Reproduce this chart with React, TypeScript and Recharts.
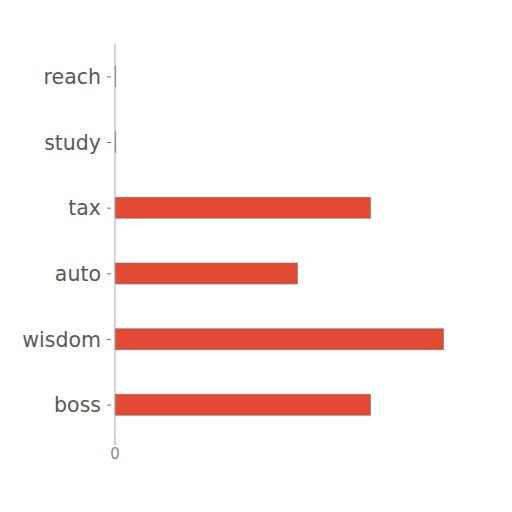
import React from "react";
import { BarChart, Bar, XAxis, YAxis } from "recharts";

const categories = ["reach", "study", "tax", "auto", "wisdom", "boss"];
const values = [0.02, 0.02, 7, 5, 9, 7];
const xTicks = [0];

const data = categories.map((c, i) => ({ name: c, value: values[i] }));

const YTick = (props: any) => {
  const { x, y, payload } = props;
  return (
    <g>
      <line x1={x - 8} x2={x - 4} y1={y} y2={y} stroke="#777" strokeWidth={1} />
      <text
        x={x - 14}
        y={y}
        textAnchor="end"
        dominantBaseline="central"
        fontFamily="DejaVu Sans"
        fontSize={20.5}
        fill="#595959"
      >
        {payload.value}
      </text>
    </g>
  );
};

export default function App() {
  return (
    <div style={{ position: "fixed", left: 0, top: 0, width: 512, height: 512, background: "#fff" }}>
      <BarChart
        width={512}
        height={512}
        data={data}
        layout="vertical"
        margin={{ top: 44, right: 32, bottom: 44, left: 0 }}
        barCategoryGap={0}
      >
        <XAxis
          type="number"
          domain={[0, 10]}
          ticks={xTicks}
          axisLine={false}
          tickLine={{ stroke: "#999" }}
          tickSize={7}
          tickMargin={3}
          height={30}
          tick={{ fontSize: 15, fill: "#888", fontFamily: "DejaVu Sans" }}
        />
        <YAxis
          type="category"
          dataKey="name"
          width={115}
          axisLine={{ stroke: "#aaa" }}
          tickLine={false}
          tickSize={0}
          tickMargin={0}
          tick={<YTick />}
        />
        <Bar
          dataKey="value"
          fill="#E24A33"
          stroke="#777"
          strokeOpacity={0.6}
          strokeWidth={1}
          barSize={21}
          isAnimationActive={false}
        />
      </BarChart>
    </div>
  );
}
